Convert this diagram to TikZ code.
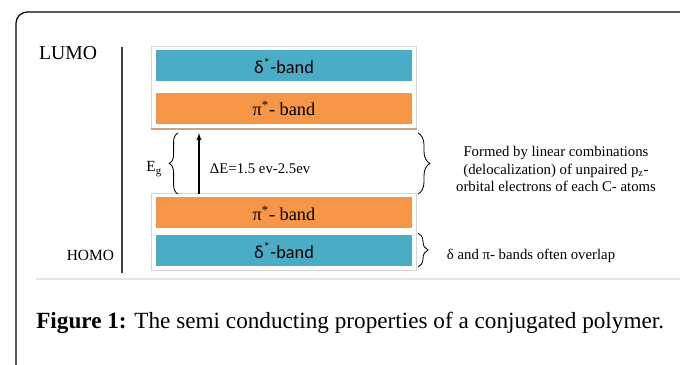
\documentclass[tikz,border=0pt]{standalone}
\usepackage{fontspec}
\setmainfont{Liberation Serif}
\newfontfamily\bandsans{Carlito}
\usetikzlibrary{positioning, arrows, arrows.meta, fit, decorations.pathreplacing}
\definecolor{bandblue}{HTML}{4BACC6}
\definecolor{bandorange}{HTML}{F79646}
\definecolor{paneledge}{HTML}{D6D6D6}
\definecolor{panelbrown}{HTML}{C9A287}
\definecolor{rulegray}{HTML}{E6E6E6}

\begin{document}
\begin{tikzpicture}[>=latex', x=0.025cm, y=-0.025cm,
    band/.style={minimum width=6.4cm, minimum height=0.775cm, inner sep=0},
    panel/.style={draw=paneledge, line width=0.8pt, inner sep=0.1cm},
    brace/.style={decorate, decoration={brace, amplitude=#1}, line width=0.6pt},
    note/.style={font=\rmfamily\fontsize{10.5}{12.5}\selectfont}
]
    \useasboundingbox (0,0) rectangle (680,365);

    % frame and rule
    \draw [line width=0.9pt, rounded corners=8] (16,370) -- (16,12) -- (690,12);
    \draw [rulegray, line width=2pt] (36,279) -- (680,279);

    % energy axis
    \coordinate (axtop) at (122,47);
    \coordinate (axbot) at (122,273);
    \draw [line width=0.8pt, black!75] (axtop) -- (axbot);
    \node [font=\rmfamily\fontsize{14}{16}\selectfont] (lumo) at (68,53) {LUMO};
    \node [font=\rmfamily\fontsize{11}{13}\selectfont, anchor=east] (homo) at (119,255) {HOMO};

    % bands
    \node [band, fill=bandblue, font=\bandsans\fontsize{13}{15}\selectfont] (deltaup) at (284,66) {δ\textsuperscript{*}-band};
    \node [band, fill=bandorange, font=\rmfamily\fontsize{13}{15}\selectfont,
        below=0.275cm of deltaup] (piup) {π\textsuperscript{*}- band};
    \node [band, fill=bandorange, font=\rmfamily\fontsize{13}{15}\selectfont] (pidown) at (284,213) {π\textsuperscript{*}- band};
    \node [band, fill=bandblue, font=\bandsans\fontsize{13}{15}\selectfont,
        below=0.15cm of pidown] (deltadown) {δ\textsuperscript{*}-band};

    \node [panel, fit=(deltaup)(piup)] (upanel) {};
    \node [panel, fit=(pidown)(deltadown)] (lpanel) {};
    \draw [panelbrown, line width=1.4pt] (upanel.south west) -- (upanel.south east);

    % gap
    \coordinate (gapbot) at (199,194);
    \coordinate (gaptop) at (199,133);
    \draw [->, line width=0.8pt] (gapbot) -- (gaptop);
    \draw [brace=0.22cm] (178,194) -- (178,133);
    \node [font=\rmfamily\fontsize{11}{13}\selectfont, anchor=east] (eg) at (167,169) {E\textsubscript{g}};
    \node [note, anchor=west] (deltae) at (205,169) {ΔE=1.5 ev-2.5ev};

    % right side notes
    \draw [brace=0.3cm] (418,133) -- (418,194);
    \node [note, align=center] (formed) at (556,169) {Formed by linear combinations\\
        (delocalization) of unpaired p\textsubscript{z}-\\
        orbital electrons of each C- atoms};
    \draw [brace=0.25cm] (418,233) -- (418,267);
    \node [note, anchor=west] (overlap) at (442,256) {δ and π- bands often overlap};

    % caption
    \node [anchor=west, inner sep=0, font=\rmfamily\fontsize{16.5}{19}\selectfont] (caption) at (36,323)
        {\textbf{Figure 1:} The semi conducting properties of a conjugated polymer.};
\end{tikzpicture}
\end{document}
